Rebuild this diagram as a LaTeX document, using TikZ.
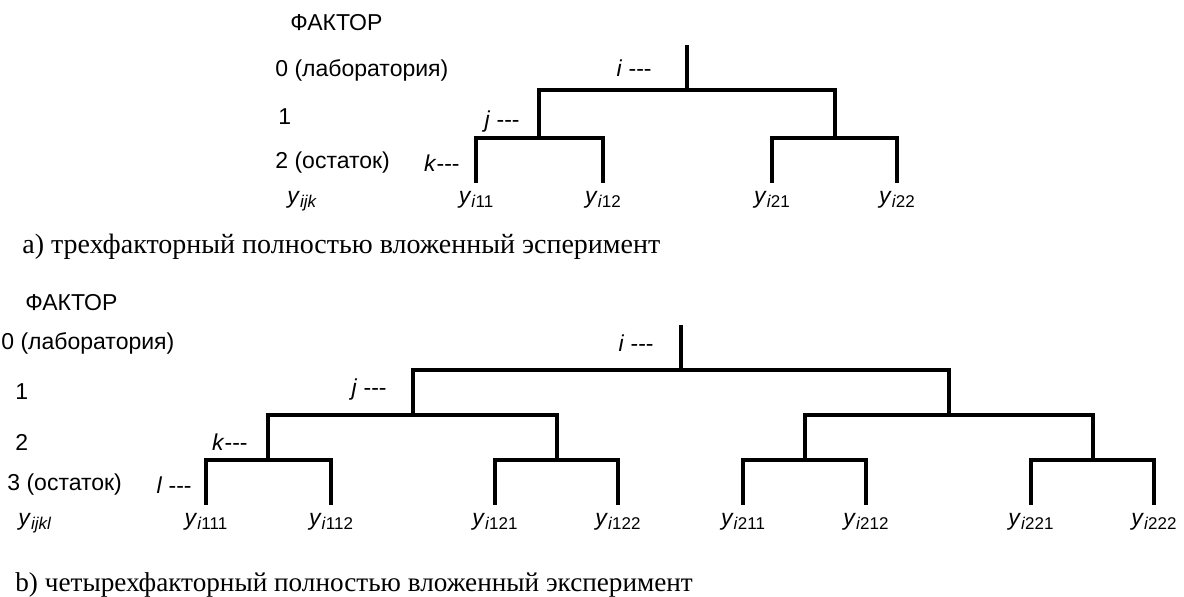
\documentclass[tikz,border=0pt]{standalone}
\usepackage{fontspec}
\setmainfont{Liberation Serif}
\setsansfont{Liberation Sans}
\newcommand{\yobs}[1]{\textit{y}\raisebox{-1.8pt}{\fontsize{8.5}{10}\selectfont #1}}

\begin{document}
\begin{tikzpicture}[x=0.5pt,y=-0.5pt,
  branch/.style={line width=1.6pt},
  lbl/.style={font=\sffamily\fontsize{11.5}{13}\selectfont, inner sep=0pt, anchor=west},
  idx/.style={font=\sffamily\fontsize{11.5}{13}\selectfont, inner sep=0pt, anchor=east},
  leaf/.style={font=\sffamily\fontsize{11.5}{13}\selectfont, inner xsep=0pt, inner ysep=4pt, anchor=north},
  capt/.style={font=\rmfamily\fontsize{14}{16}\selectfont, inner sep=0pt, anchor=west}]
\useasboundingbox (0,0) rectangle (1184,597);

% a) three factors
\node[lbl] (fa) at (290,23) {ФАКТОР};
\node[lbl] (a0) at (275,70) {0 (лаборатория)};
\node[lbl] (a1l) at (278,117) {1};
\node[lbl] (a2l) at (275,163) {2 (остаток)};
\node[leaf, anchor=north west] (ayl) at (287,183) {\yobs{\textit{ijk}}};
\node[idx] (ai) at (652,68) {\textit{i} -{}-{}-};
\node[idx] (aj) at (520,122) {\textit{j} -{}-{}-};
\node[idx] (ak) at (460,163) {\textit{k}-{}-{}-};
\coordinate (a) at (687,45);
\coordinate (a1) at (539,90);
\coordinate (a2) at (835,90);
\coordinate (a11) at (476,138);
\coordinate (a12) at (603,138);
\coordinate (a21) at (772,138);
\coordinate (a22) at (897,138);
\node[leaf] (ya11) at (476,183) {\yobs{\textit{i}11}};
\node[leaf] (ya12) at (603,183) {\yobs{\textit{i}12}};
\node[leaf] (ya21) at (772,183) {\yobs{\textit{i}21}};
\node[leaf] (ya22) at (897,183) {\yobs{\textit{i}22}};
\draw[branch] (a) -- (a |- a1);
\draw[branch] (a1 |- a11) -- (a1) -- (a2) -- (a2 |- a21);
\draw[branch] (ya11) -- (a11) -- (a12) -- (ya12);
\draw[branch] (ya21) -- (a21) -- (a22) -- (ya22);
\node[capt] (ca) at (22,247) {a) трехфакторный полностью вложенный эсперимент};

% b) four factors
\node[lbl] (fb) at (25,303) {ФАКТОР};
\node[lbl] (b0) at (1,343) {0 (лаборатория)};
\node[lbl] (b1l) at (15,392) {1};
\node[lbl] (b2l) at (15,442) {2};
\node[lbl] (b3l) at (7,485) {3 (остаток)};
\node[leaf, anchor=north west] (byl) at (18,505) {\yobs{\textit{ijkl}}};
\node[idx] (bi) at (654,343) {\textit{i} -{}-{}-};
\node[idx] (bj) at (387,390) {\textit{j} -{}-{}-};
\node[idx] (bk) at (248,442) {\textit{k}-{}-{}-};
\node[idx] (bl) at (192,485) {\textit{l} -{}-{}-};
\coordinate (b) at (681,325);
\coordinate (b1) at (413,370);
\coordinate (b2) at (949,370);
\coordinate (b11) at (268,415);
\coordinate (b12) at (557,415);
\coordinate (b21) at (805,415);
\coordinate (b22) at (1093,415);
\coordinate (b111) at (206,460);
\coordinate (b112) at (331,460);
\coordinate (b121) at (495,460);
\coordinate (b122) at (618,460);
\coordinate (b211) at (743,460);
\coordinate (b212) at (866,460);
\coordinate (b221) at (1031,460);
\coordinate (b222) at (1154,460);
\node[leaf] (yb111) at (206,505) {\yobs{\textit{i}111}};
\node[leaf] (yb112) at (331,505) {\yobs{\textit{i}112}};
\node[leaf] (yb121) at (495,505) {\yobs{\textit{i}121}};
\node[leaf] (yb122) at (618,505) {\yobs{\textit{i}122}};
\node[leaf] (yb211) at (743,505) {\yobs{\textit{i}211}};
\node[leaf] (yb212) at (866,505) {\yobs{\textit{i}212}};
\node[leaf] (yb221) at (1031,505) {\yobs{\textit{i}221}};
\node[leaf] (yb222) at (1154,505) {\yobs{\textit{i}222}};
\draw[branch] (b) -- (b |- b1);
\draw[branch] (b1 |- b11) -- (b1) -- (b2) -- (b2 |- b21);
\draw[branch] (b11 |- b111) -- (b11) -- (b12) -- (b12 |- b121);
\draw[branch] (b21 |- b211) -- (b21) -- (b22) -- (b22 |- b221);
\draw[branch] (yb111) -- (b111) -- (b112) -- (yb112);
\draw[branch] (yb121) -- (b121) -- (b122) -- (yb122);
\draw[branch] (yb211) -- (b211) -- (b212) -- (yb212);
\draw[branch] (yb221) -- (b221) -- (b222) -- (yb222);
\node[capt, font=\rmfamily\fontsize{13.6}{16}\selectfont] (cb) at (15,585) {b) четырехфакторный полностью вложенный эксперимент};
\end{tikzpicture}
\end{document}
